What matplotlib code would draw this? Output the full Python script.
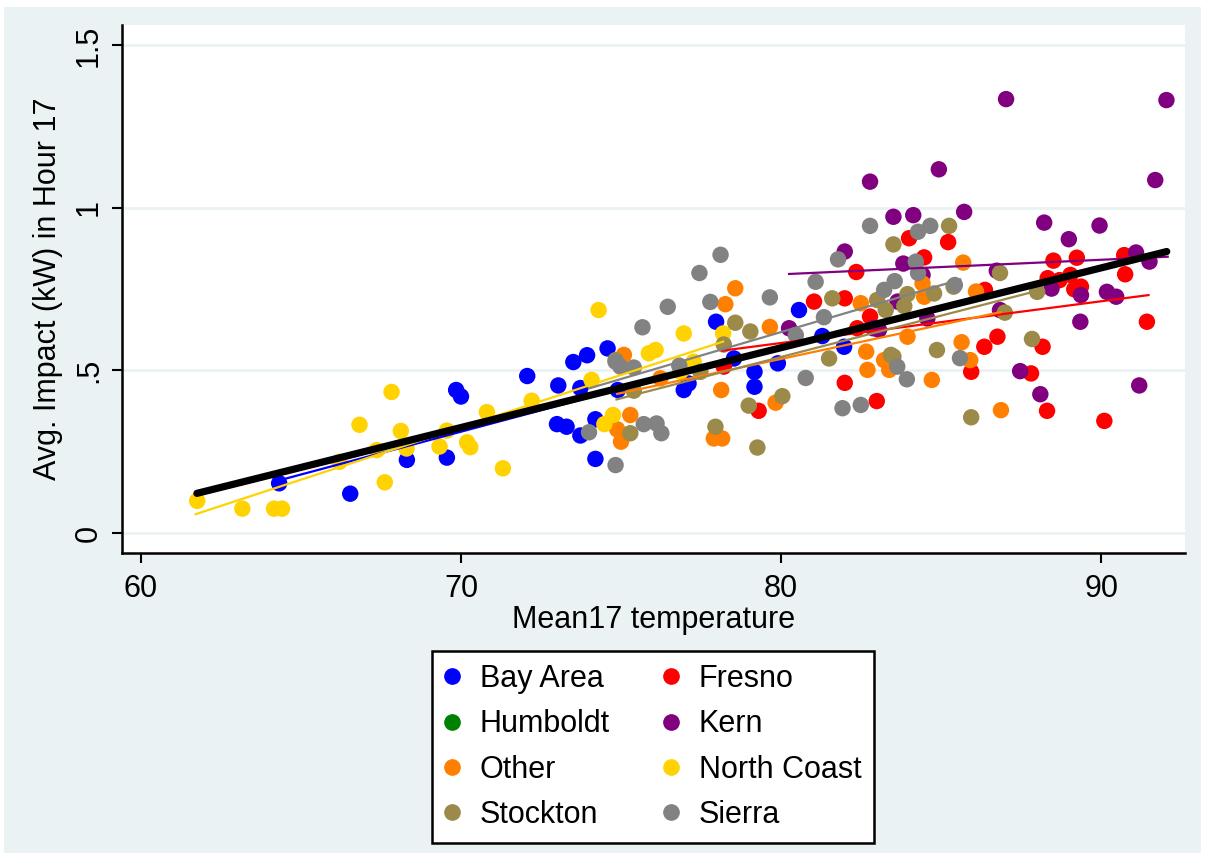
import numpy as np
import matplotlib
matplotlib.use("Agg")
import matplotlib.pyplot as plt
from matplotlib.patches import Rectangle
from matplotlib.lines import Line2D

plt.rcParams['font.family'] = ['Liberation Sans', 'DejaVu Sans']

# regions, in legend order (row-wise, two columns)
regions = ["Bay Area", "Fresno", "Humboldt", "Kern", "Other", "North Coast", "Stockton", "Sierra"]
colors = {"Bay Area": "#0000FF", "Fresno": "#FF0000", "Humboldt": "#008000", "Kern": "#800080",
          "Other": "#FF8000", "North Coast": "#FFD200", "Stockton": "#9C8A4A", "Sierra": "#828282"}

bay_x = [64.32, 66.54, 68.31, 69.85, 70.0, 69.56, 72.07, 73.04, 73.51, 73.94, 74.58, 73.0, 73.3, 73.73,
         74.2, 74.2, 73.73, 74.9, 77.97, 78.53, 79.17, 79.17, 79.9, 80.56, 76.96, 77.11, 81.29, 81.97]
bay_y = [0.153, 0.121, 0.225, 0.44, 0.42, 0.232, 0.483, 0.454, 0.526, 0.547, 0.568, 0.335, 0.327, 0.30,
         0.35, 0.228, 0.446, 0.44, 0.65, 0.537, 0.496, 0.45, 0.522, 0.686, 0.44, 0.46, 0.606, 0.573]

fresno_x = [78.21, 79.30, 81.03, 84.0, 85.22, 84.47, 82.35, 81.99, 82.78, 86.37, 86.35, 86.76, 81.99, 82.99,
            85.94, 88.51, 89.24, 90.72, 90.75, 88.33, 88.7, 89.04, 89.37, 89.16, 91.43, 88.17, 87.81,
            88.31, 90.1, 82.38]
fresno_y = [0.512, 0.376, 0.712, 0.907, 0.895, 0.848, 0.803, 0.722, 0.666, 0.748, 0.573, 0.604, 0.462, 0.406,
            0.496, 0.838, 0.847, 0.855, 0.796, 0.784, 0.778, 0.794, 0.758, 0.75, 0.65, 0.573, 0.491,
            0.376, 0.345, 0.63]

humboldt_x = []
humboldt_y = []

kern_x = [80.25, 82.78, 84.93, 83.51, 84.13, 85.72, 81.99, 83.82, 84.42, 86.74, 83.64, 84.57, 83.06, 86.84,
          87.03, 92.04, 91.69, 88.22, 89.95, 88.99, 91.09, 91.51, 88.45, 89.37, 90.18, 90.47, 89.35,
          87.47, 88.1, 91.19, 82.88]
kern_y = [0.63, 1.081, 1.119, 0.973, 0.978, 0.988, 0.866, 0.829, 0.794, 0.807, 0.712, 0.66, 0.625, 0.686,
          1.335, 1.332, 1.086, 0.955, 0.946, 0.904, 0.863, 0.835, 0.752, 0.732, 0.742, 0.727, 0.65,
          0.498, 0.427, 0.454, 0.63]

other_x = [78.57, 78.26, 79.65, 75.09, 76.23, 78.13, 75.29, 74.88, 75.0, 77.9, 78.16, 79.83, 85.69, 84.42,
           84.47, 82.49, 86.09, 83.95, 82.66, 85.64, 82.7, 83.22, 83.38, 84.71, 85.91, 86.87]
other_y = [0.753, 0.704, 0.634, 0.548, 0.476, 0.44, 0.363, 0.319, 0.281, 0.291, 0.291, 0.401, 0.832, 0.768,
           0.727, 0.707, 0.743, 0.604, 0.558, 0.587, 0.502, 0.532, 0.502, 0.471, 0.532, 0.378]

ncoast_x = [61.76, 63.17, 64.16, 64.41, 66.2, 66.83, 67.83, 67.37, 67.62, 68.12, 68.3, 74.30, 74.08, 72.21,
            70.81, 69.56, 69.33, 70.19, 70.29, 71.31, 74.48, 74.75, 76.96, 75.87, 76.08, 78.19, 77.27, 76.86]
ncoast_y = [0.099, 0.075, 0.075, 0.075, 0.219, 0.333, 0.434, 0.255, 0.156, 0.314, 0.26, 0.686, 0.471, 0.407,
            0.372, 0.315, 0.266, 0.279, 0.264, 0.199, 0.335, 0.363, 0.614, 0.553, 0.563, 0.614, 0.527, 0.496]

stockton_x = [78.57, 79.04, 78.21, 74.83, 75.40, 77.48, 75.29, 77.95, 78.99, 80.04, 79.26, 83.51, 85.25,
              81.6, 83.0, 83.27, 83.95, 83.85, 84.78, 85.39, 84.87, 83.43, 86.84, 81.5, 83.51, 85.94,
              86.99, 87.84, 88.0]
stockton_y = [0.647, 0.62, 0.58, 0.532, 0.438, 0.496, 0.307, 0.327, 0.392, 0.421, 0.263, 0.888, 0.945,
              0.722, 0.717, 0.686, 0.735, 0.698, 0.737, 0.758, 0.563, 0.548, 0.80, 0.537, 0.543, 0.356,
              0.678, 0.597, 0.742]

sierra_x = [74.0, 74.83, 74.83, 78.11, 77.45, 76.46, 75.67, 77.79, 79.65, 74.98, 75.40, 76.82, 75.71, 76.11,
            76.26, 80.77, 80.46, 81.08, 82.78, 84.28, 84.66, 81.78, 84.21, 84.28, 83.55, 83.22, 85.43,
            81.34, 85.59, 81.92, 82.49, 83.63, 83.93]
sierra_y = [0.31, 0.209, 0.527, 0.856, 0.80, 0.696, 0.633, 0.711, 0.725, 0.512, 0.509, 0.515, 0.335, 0.337,
            0.307, 0.477, 0.609, 0.773, 0.945, 0.927, 0.945, 0.842, 0.835, 0.80, 0.775, 0.748, 0.763,
            0.664, 0.538, 0.384, 0.394, 0.512, 0.473]

# fitted lines per region (start x, end x, start y, end y)
fit_x0 = {"Bay Area": 64.32, "Fresno": 78.16, "Kern": 80.25, "Other": 74.88,
          "North Coast": 61.71, "Stockton": 74.86, "Sierra": 74.0}
fit_x1 = {"Bay Area": 80.56, "Fresno": 91.48, "Kern": 92.08, "Other": 86.87,
          "North Coast": 78.19, "Stockton": 88.0, "Sierra": 85.6}
fit_y0 = {"Bay Area": 0.162, "Fresno": 0.561, "Kern": 0.797, "Other": 0.428,
          "North Coast": 0.058, "Stockton": 0.411, "Sierra": 0.445}
fit_y1 = {"Bay Area": 0.590, "Fresno": 0.732, "Kern": 0.850, "Other": 0.680,
          "North Coast": 0.589, "Stockton": 0.745, "Sierra": 0.780}
# overall fit
all_x = [61.75, 92.05]
all_y = [0.122, 0.866]

xs = {"Bay Area": bay_x, "Fresno": fresno_x, "Humboldt": humboldt_x, "Kern": kern_x,
      "Other": other_x, "North Coast": ncoast_x, "Stockton": stockton_x, "Sierra": sierra_x}
ys = {"Bay Area": bay_y, "Fresno": fresno_y, "Humboldt": humboldt_y, "Kern": kern_y,
      "Other": other_y, "North Coast": ncoast_y, "Stockton": stockton_y, "Sierra": sierra_y}

W, H = 1207, 858
fig = plt.figure(figsize=(W / 100, H / 100), dpi=100)
fig.patch.set_facecolor("white")
fig.patches.append(Rectangle((4 / W, 1 - 853 / H), (1201 - 4) / W, (853 - 7) / H,
                             transform=fig.transFigure, facecolor="#EAF2F3", edgecolor="none", zorder=-10))

ax = fig.add_axes([122 / W, 1 - 553 / H, (1185 - 122) / W, (553 - 25) / H])
ax.set_facecolor("white")
ax.set_xlim(59.41, 92.62)
ax.set_ylim(-0.0615, 1.563)

for r in regions:
    if xs[r]:
        ax.scatter(xs[r], ys[r], s=140, color=colors[r], edgecolors="none", zorder=3)

for r in regions:
    if r in fit_x0:
        ax.plot([fit_x0[r], fit_x1[r]], [fit_y0[r], fit_y1[r]], color=colors[r], lw=1.6, zorder=4)
ax.plot(all_x, all_y, color="black", lw=5.2, solid_capstyle="round", zorder=5)

ax.set_xticks([60, 70, 80, 90])
ax.set_yticks([0, 0.5, 1, 1.5])
ax.set_yticklabels(["0", ".5", "1", "1.5"], rotation=90, va="center")
ax.yaxis.grid(True, color="#EAF2F3", lw=2)
ax.set_axisbelow(True)
for s in ["top", "right"]:
    ax.spines[s].set_visible(False)
for s in ["left", "bottom"]:
    ax.spines[s].set_linewidth(1.8)
ax.tick_params(axis="both", length=7, width=1.5, labelsize=22)
ax.tick_params(axis="x", pad=8)
ax.tick_params(axis="y", pad=6)
ax.set_xlabel("Mean17 temperature", fontsize=22, labelpad=1)
ax.set_ylabel("Avg. Impact (kW) in Hour 17", fontsize=22, labelpad=8)

# legend is filled row-wise in the reference, matplotlib fills column-wise
order = regions[0::2] + regions[1::2]
handles = [Line2D([], [], ls="none", marker="o", markersize=11, color=colors[r]) for r in order]
leg = fig.legend(handles, order, ncol=2, loc="center", bbox_to_anchor=(653 / W, 1 - 747 / H),
                 fontsize=22, frameon=True, fancybox=False, edgecolor="black", facecolor="white",
                 framealpha=1, handletextpad=0.65, columnspacing=1.75, labelspacing=0.5, borderpad=0.42,
                 handlelength=0.5)
leg.get_frame().set_linewidth(1.8)

fig.savefig("out.png", dpi=100, facecolor=fig.get_facecolor())
